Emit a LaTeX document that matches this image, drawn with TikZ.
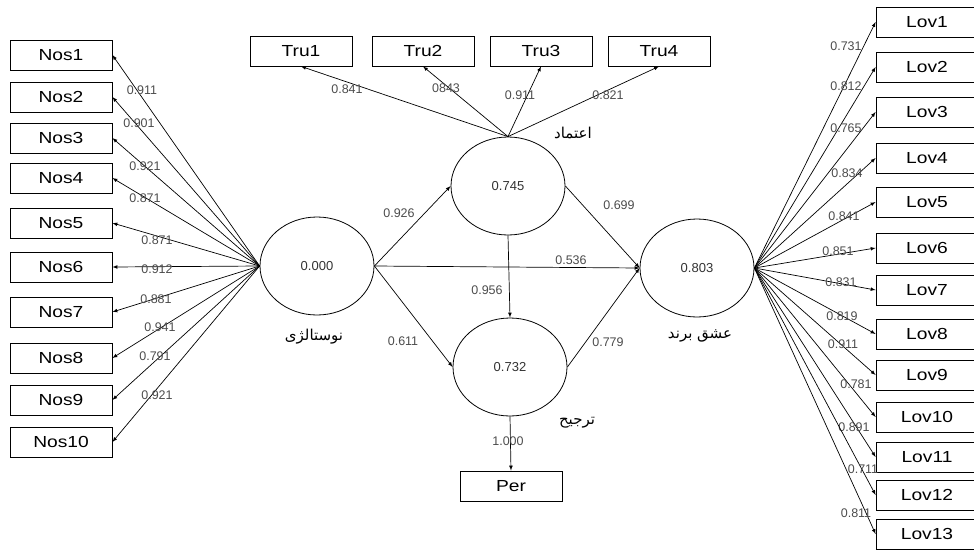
\documentclass[tikz,border=0pt]{standalone}
\usepackage{fontspec}
\setmainfont{Liberation Sans}
\newfontfamily\boxfont[FakeStretch=1.2]{Liberation Sans}
\newfontfamily\farsi[Script=Arabic]{DejaVu Sans}
\TeXXeTstate=1
\usetikzlibrary{arrows}
\usetikzlibrary{shapes.geometric}

\tikzset{
  ind/.style={draw, line width=0.8pt, minimum width=102pt, minimum height=30pt, inner sep=0pt, font={\boxfont\fontsize{16}{18}\selectfont}},
  lat/.style={draw, ellipse, line width=0.8pt, minimum width=114pt, minimum height=98pt, inner sep=0pt, font={\fontsize{13}{15}\selectfont}, text=black!80},
  coef/.style={inner sep=0pt, font={\fontsize{12.5}{14}\selectfont}, text=black!70},
  falabel/.style={inner sep=0pt, font={\farsi\fontsize{15}{17}\selectfont}},
  link/.style={-latex, line width=0.7pt}
}

\begin{document}
\begin{tikzpicture}[x=1pt, y=-1pt]
\useasboundingbox (0,0) rectangle (974,549);

\node[lat] (nost) at (317,266) {0.000};
\node[lat] (trust) at (508,186) {0.745};
\node[lat] (pref) at (510,367) {0.732};
\node[lat] (love) at (697,268) {0.803};
\node[ind] (per) at (511,486) {Per};

\node[falabel] (nostname) at (314,337) {\beginR نوستالژی\endR};
\node[falabel] (trustname) at (573,133) {\beginR اعتماد\endR};
\node[falabel] (prefname) at (577,423) {\beginR ترجیح\endR};
\node[falabel] (lovename) at (700,336) {\beginR عشق برند\endR};

\foreach \i/\y/\lx/\ly/\v in {1/55/142/90/0.911, 2/97/139/123/0.901, 3/138/145/166/0.921,
  4/178/145/198/0.871, 5/223/157/240/0.871, 6/267/157/269/0.912, 7/312/156/299/0.881,
  8/358/160/327/0.941, 9/400/155/356/0.791, 10/442/157/395/0.921}{
  \node[ind] (nos\i) at (61,\y) {Nos\i};
  \draw[link] (nost.west) -- (nos\i.east);
  \node[coef] (nosv\i) at (\lx,\ly) {\v};
}

\foreach \i/\x/\lx/\ly/\v in {1/301/347/89/0.841, 2/423/446/88/0843, 3/541/520/95/0.911, 4/659/608/95/0.821}{
  \node[ind] (tru\i) at (\x,51) {Tru\i};
  \draw[link] (trust.north) -- (tru\i.south);
  \node[coef] (truv\i) at (\lx,\ly) {\v};
}

\foreach \i/\y/\lx/\ly/\v in {1/22/846/46/0.731, 2/67/846/86/0.812, 3/112/846/128/0.765,
  4/158/847/173/0.834, 5/202/844/216/0.841, 6/248/838/251/0.851, 7/290/841/282/0.831,
  8/334/842/316/0.819, 9/375/843/344/0.911, 10/417/856/384/0.781, 11/457/854/427/0.891,
  12/495/863/469/0.711, 13/534/856/513/0.811}{
  \node[ind] (lov\i) at (927,\y) {Lov\i};
  \draw[link] (love.east) -- (lov\i.west);
  \node[coef] (lovv\i) at (\lx,\ly) {\v};
}

\draw[link] (nost.east) -- (trust.west);
\draw[link] (nost.east) -- (pref.west);
\draw[link] (nost.east) -- (love.west);
\draw[link] (trust.east) -- (love.west);
\draw[link] (trust.south) -- (pref.north);
\draw[link] (pref.east) -- (love.west);
\draw[link] (pref.south) -- (per.north);

\node[coef] (c1) at (399,213) {0.926};
\node[coef] (c2) at (619,205) {0.699};
\node[coef] (c3) at (571,260) {0.536};
\node[coef] (c4) at (487,290) {0.956};
\node[coef] (c5) at (403,341) {0.611};
\node[coef] (c6) at (608,342) {0.779};
\node[coef] (c7) at (508,441) {1.000};
\end{tikzpicture}
\end{document}
